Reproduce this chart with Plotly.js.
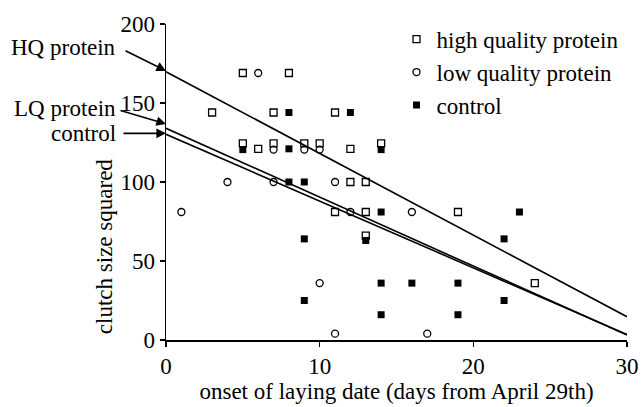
<!DOCTYPE html>
<html>
<head>
<meta charset="utf-8">
<script src="https://cdn.plot.ly/plotly-3.0.1.min.js"></script>
<style>
html,body{margin:0;padding:0;background:#fff;}
#chart{width:642px;height:407px;}
#chart svg text{font-family:"Liberation Serif","Times New Roman",serif !important;}
</style>
</head>
<body>
<div id="chart"></div>
<script>
// High quality protein (open squares); overlapping points appear slightly offset in the figure
const hqDays   = [5, 8, 3, 7, 11, 5, 6, 7, 9, 10, 12, 14, 12, 13, 11, 13, 19, 13, 24];
const hqClutch = [169, 169, 144, 144, 144, 124.5, 121, 124.5, 124.5, 124.5, 121, 124.5, 100, 100, 81, 81, 81, 66, 36];

// Low quality protein (open circles)
const lqDays   = [6, 7, 9, 10, 4, 7, 11, 1, 12, 16, 10, 11, 17];
const lqClutch = [169, 120.5, 120.5, 120.5, 100, 100, 100, 81, 81, 81, 36, 4, 4];

// Control (filled squares)
const ctDays   = [8, 12, 5, 8, 14, 8, 9, 14, 23, 9, 13, 22, 14, 16, 19, 9, 22, 14, 19];
const ctClutch = [144, 144, 120.5, 121, 120.5, 100, 100, 81, 81, 64, 63, 64, 36, 36, 36, 25, 25, 16, 16];

// Fitted regression lines (end points)
const fitDays = [0, 30];
const hqFit = [169.8, 14.7];
const lqFit = [134, 3.2];
const ctFit = [130.2, 3.4];

const serif = 'Liberation Serif, serif';
const txt = {family: serif, size: 23, color: '#000'};

const lineStyle = {color: '#000', width: 1.6};
const traces = [
  {x: fitDays, y: hqFit, mode: 'lines', line: lineStyle, showlegend: false, hoverinfo: 'skip'},
  {x: fitDays, y: lqFit, mode: 'lines', line: lineStyle, showlegend: false, hoverinfo: 'skip'},
  {x: fitDays, y: ctFit, mode: 'lines', line: lineStyle, showlegend: false, hoverinfo: 'skip'},
  {x: hqDays, y: hqClutch, mode: 'markers', name: 'high quality protein',
   marker: {symbol: 'square-open', size: 7, color: '#000', line: {width: 1.3, color: '#000'}}},
  {x: lqDays, y: lqClutch, mode: 'markers', name: 'low quality protein',
   marker: {symbol: 'circle-open', size: 7, color: '#000', line: {width: 1.3, color: '#000'}}},
  {x: ctDays, y: ctClutch, mode: 'markers', name: 'control',
   marker: {symbol: 'square', size: 7, color: '#000'}}
];

function axis(extra) {
  return Object.assign({
    showline: true, linecolor: '#000', linewidth: 1.5,
    ticks: 'outside', ticklen: 5, tickwidth: 1.5, tickcolor: '#000',
    showgrid: false, zeroline: false,
    tickfont: {family: serif, size: 23, color: '#000'}
  }, extra);
}

const layout = {
  width: 642, height: 407,
  margin: {l: 166, r: 15, t: 24, b: 67},
  paper_bgcolor: '#fff', plot_bgcolor: '#fff',
  font: {family: serif, size: 23, color: '#000'},
  xaxis: axis({
    range: [0, 30], dtick: 10, tick0: 0,
    title: {text: 'onset of laying date (days from April 29th)', font: txt, standoff: 4}
  }),
  yaxis: axis({
    range: [0, 200], dtick: 50, tick0: 0
  }),
  legend: {
    x: 0.50, y: 1.02, xanchor: 'left', yanchor: 'top',
    font: {family: serif, size: 23, color: '#000'},
    bgcolor: 'rgba(0,0,0,0)', borderwidth: 0
  },
  annotations: [
    {text: 'clutch size squared', textangle: -90, xref: 'paper', yref: 'paper',
     x: -0.1345, y: 0.297, xanchor: 'center', yanchor: 'middle', showarrow: false, font: txt},
    {text: 'HQ protein', xref: 'paper', yref: 'paper', x: -0.104, y: 0.926,
     xanchor: 'right', yanchor: 'middle', showarrow: false, font: txt},
    {text: 'LQ protein', xref: 'paper', yref: 'paper', x: -0.104, y: 0.734,
     xanchor: 'right', yanchor: 'middle', showarrow: false, font: txt},
    {text: 'control', xref: 'paper', yref: 'paper', x: -0.104, y: 0.655,
     xanchor: 'right', yanchor: 'middle', showarrow: false, font: txt},
    {text: '', xref: 'x', yref: 'y', x: 0, y: 170.3, ax: -42, ay: -21, showarrow: true,
     arrowhead: 2, arrowsize: 1.2, arrowwidth: 1.6, arrowcolor: '#000'},
    {text: '', xref: 'x', yref: 'y', x: 0, y: 136.7, ax: -47, ay: -14, showarrow: true,
     arrowhead: 2, arrowsize: 1.2, arrowwidth: 1.6, arrowcolor: '#000'},
    {text: '', xref: 'x', yref: 'y', x: 0, y: 130.8, ax: -44, ay: 0, showarrow: true,
     arrowhead: 2, arrowsize: 1.2, arrowwidth: 1.6, arrowcolor: '#000'}
  ]
};

Plotly.newPlot('chart', traces, layout, {displayModeBar: false, staticPlot: true});
</script>
</body>
</html>
